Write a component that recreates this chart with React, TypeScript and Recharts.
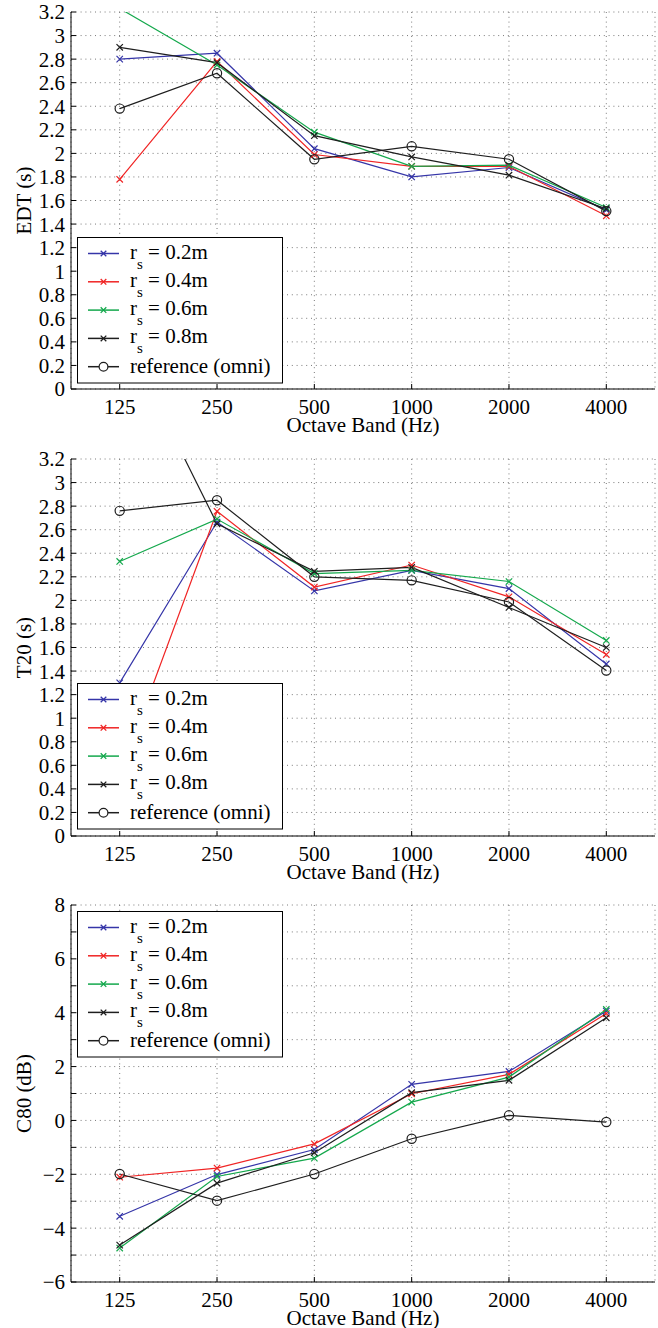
import React from 'react';
import { LineChart, Line, XAxis, YAxis, CartesianGrid } from 'recharts';

const FONT = '"Liberation Serif", "Times New Roman", Times, serif';

// Categories
const bands = ['125', '250', '500', '1000', '2000', '4000'];

// Series names
const sourceRadii = ['0.2m', '0.4m', '0.6m', '0.8m'];
const referenceName = 'reference (omni)';

// EDT (s)
const edt02 = [2.8, 2.85, 2.04, 1.8, 1.88, 1.52];
const edt04 = [1.78, 2.78, 1.99, 1.89, 1.89, 1.47];
const edt06 = [3.23, 2.75, 2.18, 1.89, 1.9, 1.54];
const edt08 = [2.9, 2.77, 2.15, 1.97, 1.815, 1.53];
const edtRef = [2.38, 2.68, 1.95, 2.06, 1.95, 1.51];

// T20 (s)
const t20_02 = [1.3, 2.665, 2.08, 2.255, 2.1, 1.46];
const t20_04 = [0.52, 2.756, 2.113, 2.3, 2.03, 1.54];
const t20_06 = [2.33, 2.69, 2.227, 2.255, 2.16, 1.66];
const t20_08 = [4.31, 2.65, 2.246, 2.28, 1.94, 1.6];
const t20Ref = [2.76, 2.85, 2.2, 2.17, 1.986, 1.405];

// C80 (dB)
const c80_02 = [-3.56, -2.01, -1.08, 1.34, 1.82, 4.06];
const c80_04 = [-2.11, -1.77, -0.87, 0.99, 1.71, 3.97];
const c80_06 = [-4.74, -2.08, -1.4, 0.68, 1.61, 4.12];
const c80_08 = [-4.63, -2.33, -1.2, 1.03, 1.49, 3.81];
const c80Ref = [-1.99, -2.98, -1.99, -0.68, 0.19, -0.06];

// Tick values
const rtTicks = [0, 0.2, 0.4, 0.6, 0.8, 1, 1.2, 1.4, 1.6, 1.8, 2, 2.2, 2.4, 2.6, 2.8, 3, 3.2];
const c80Ticks = [-6, -5, -4, -3, -2, -1, 0, 1, 2, 3, 4, 5, 6, 7, 8];

const BLUE = '#3535a8';
const RED = '#f02424';
const GREEN = '#14a84c';
const BLACK = '#1e1e1e';
const seriesColors = [BLUE, RED, GREEN, BLACK];
const seriesKeys = ['s02', 's04', 's06', 's08'];

const build = (a: number[], b: number[], c: number[], d: number[], r: number[]) =>
  bands.map((band, i) => ({ band, s02: a[i], s04: b[i], s06: c[i], s08: d[i], ref: r[i] }));

const edtData = build(edt02, edt04, edt06, edt08, edtRef);
const t20Data = build(t20_02, t20_04, t20_06, t20_08, t20Ref);
const c80Data = build(c80_02, c80_04, c80_06, c80_08, c80Ref);

const fmtRt = (v: number) => String(Math.round(v * 10) / 10);
const fmtC80 = (v: number) => (v % 2 === 0 ? (v < 0 ? '\u2212' + String(-v) : String(v)) : '');

const makeXDot = (color: string, s = 3.2) => (props: any) => {
  const { cx, cy, index } = props;
  if (cx == null || cy == null || isNaN(cx) || isNaN(cy)) return <g key={'x' + index} />;
  return (
    <path
      key={'x' + index}
      d={`M${cx - s},${cy - s}L${cx + s},${cy + s}M${cx - s},${cy + s}L${cx + s},${cy - s}`}
      stroke={color}
      strokeWidth={1.2}
      fill="none"
    />
  );
};

const circleDot = (props: any) => {
  const { cx, cy, index } = props;
  if (cx == null || cy == null || isNaN(cx) || isNaN(cy)) return <g key={'c' + index} />;
  return <circle key={'c' + index} cx={cx} cy={cy} r={4.6} stroke={BLACK} strokeWidth={1.2} fill="none" />;
};

const tickStyle = { fill: '#000', fontSize: 21, fontFamily: FONT };
const X_PAD = { left: 48.7, right: 48.7 };

function LegendBox({ top }: { top: number }) {
  const rowY = (i: number) => 16.5 + i * 28.3;
  return (
    <svg
      style={{ position: 'absolute', left: 77, top, overflow: 'visible' }}
      width={207}
      height={147}
    >
      <rect x={0.5} y={0.5} width={205} height={145.5} fill="#fff" stroke="#000" strokeWidth={1} />
      {sourceRadii.map((name, i) => {
        const y = rowY(i);
        const c = seriesColors[i];
        const s = 2.8;
        return (
          <g key={name}>
            <line x1={11} x2={42} y1={y} y2={y} stroke={c} strokeWidth={1.5} />
            <path d={`M${26.5 - s},${y - s}L${26.5 + s},${y + s}M${26.5 - s},${y + s}L${26.5 + s},${y - s}`} stroke={c} strokeWidth={1.3} />
            <text x={53} y={y + 5} fontSize={21} fontFamily={FONT} fill="#000">
              r<tspan dy={10} fontSize={15}>s</tspan>
              <tspan dy={-10}>{' = ' + name}</tspan>
            </text>
          </g>
        );
      })}
      <g>
        <line x1={11} x2={42} y1={rowY(4)} y2={rowY(4)} stroke={BLACK} strokeWidth={1.5} />
        <circle cx={26.5} cy={rowY(4)} r={4.4} stroke={BLACK} strokeWidth={1.2} fill="#fff" />
        <text x={53} y={rowY(4) + 6} fontSize={21} fontFamily={FONT} fill="#000">
          {referenceName}
        </text>
      </g>
    </svg>
  );
}

type PanelProps = {
  top: number;
  data: any[];
  domain: [number, number];
  ticks: number[];
  fmt: (v: number) => string;
  yLabel: string;
  legendTop: number;
};

function Panel({ top, data, domain, ticks, fmt, yLabel, legendTop }: PanelProps) {
  return (
    <div style={{ position: 'absolute', left: 0, top, width: 658, height: 445 }}>
      <LineChart width={658} height={445} data={data} margin={{ top: 12, right: 3, bottom: 0, left: 0 }}>
        <CartesianGrid stroke="#7a7a7a" strokeDasharray="1 3.8" strokeWidth={1} />
        <XAxis
          dataKey="band"
          height={56}
          interval={0}
          padding={X_PAD}
          tickSize={-5}
          tickMargin={15}
          axisLine={{ stroke: '#000', strokeWidth: 1 }}
          tickLine={{ stroke: '#000' }}
          tick={tickStyle}
          label={{
            value: 'Octave Band (Hz)',
            position: 'insideBottom',
            offset: 13,
            fill: '#000',
            fontSize: 21,
            fontFamily: FONT,
          }}
        />
        <XAxis
          xAxisId="t"
          dataKey="band"
          orientation="top"
          height={0}
          interval={0}
          padding={X_PAD}
          tick={false}
          tickSize={-5}
          axisLine={{ stroke: '#000', strokeWidth: 1 }}
          tickLine={{ stroke: '#000' }}
        />
        <YAxis
          width={71}
          type="number"
          domain={domain}
          ticks={ticks}
          interval={0}
          allowDataOverflow
          tickFormatter={fmt}
          tickSize={-5}
          tickMargin={11}
          axisLine={{ stroke: '#000', strokeWidth: 1 }}
          tickLine={{ stroke: '#000' }}
          tick={tickStyle}
          label={{
            value: yLabel,
            angle: -90,
            position: 'insideLeft',
            offset: 24,
            fill: '#000',
            fontSize: 21,
            fontFamily: FONT,
            style: { textAnchor: 'middle' },
          }}
        />
        <YAxis
          yAxisId="r"
          orientation="right"
          width={0}
          type="number"
          domain={domain}
          ticks={ticks}
          interval={0}
          allowDataOverflow
          tick={false}
          tickSize={-5}
          axisLine={{ stroke: '#000', strokeWidth: 1 }}
          tickLine={{ stroke: '#000' }}
        />
        {seriesKeys.map((k, i) => (
          <Line
            key={k}
            type="linear"
            dataKey={k}
            stroke={seriesColors[i]}
            strokeWidth={1.2}
            dot={makeXDot(seriesColors[i])}
            activeDot={false}
            isAnimationActive={false}
          />
        ))}
        <Line
          type="linear"
          dataKey="ref"
          stroke={BLACK}
          strokeWidth={1.2}
          dot={circleDot}
          activeDot={false}
          isAnimationActive={false}
        />
      </LineChart>
      <LegendBox top={legendTop - top} />
    </div>
  );
}

export default function App() {
  return (
    <div style={{ position: 'absolute', left: 0, top: 0, width: 658, height: 1328, background: '#fff' }}>
      <Panel top={0} data={edtData} domain={[0, 3.2]} ticks={rtTicks} fmt={fmtRt} yLabel="EDT (s)" legendTop={237} />
      <Panel top={447} data={t20Data} domain={[0, 3.2]} ticks={rtTicks} fmt={fmtRt} yLabel="T20 (s)" legendTop={683} />
      <Panel top={893} data={c80Data} domain={[-6, 8]} ticks={c80Ticks} fmt={fmtC80} yLabel="C80 (dB)" legendTop={911} />
    </div>
  );
}
